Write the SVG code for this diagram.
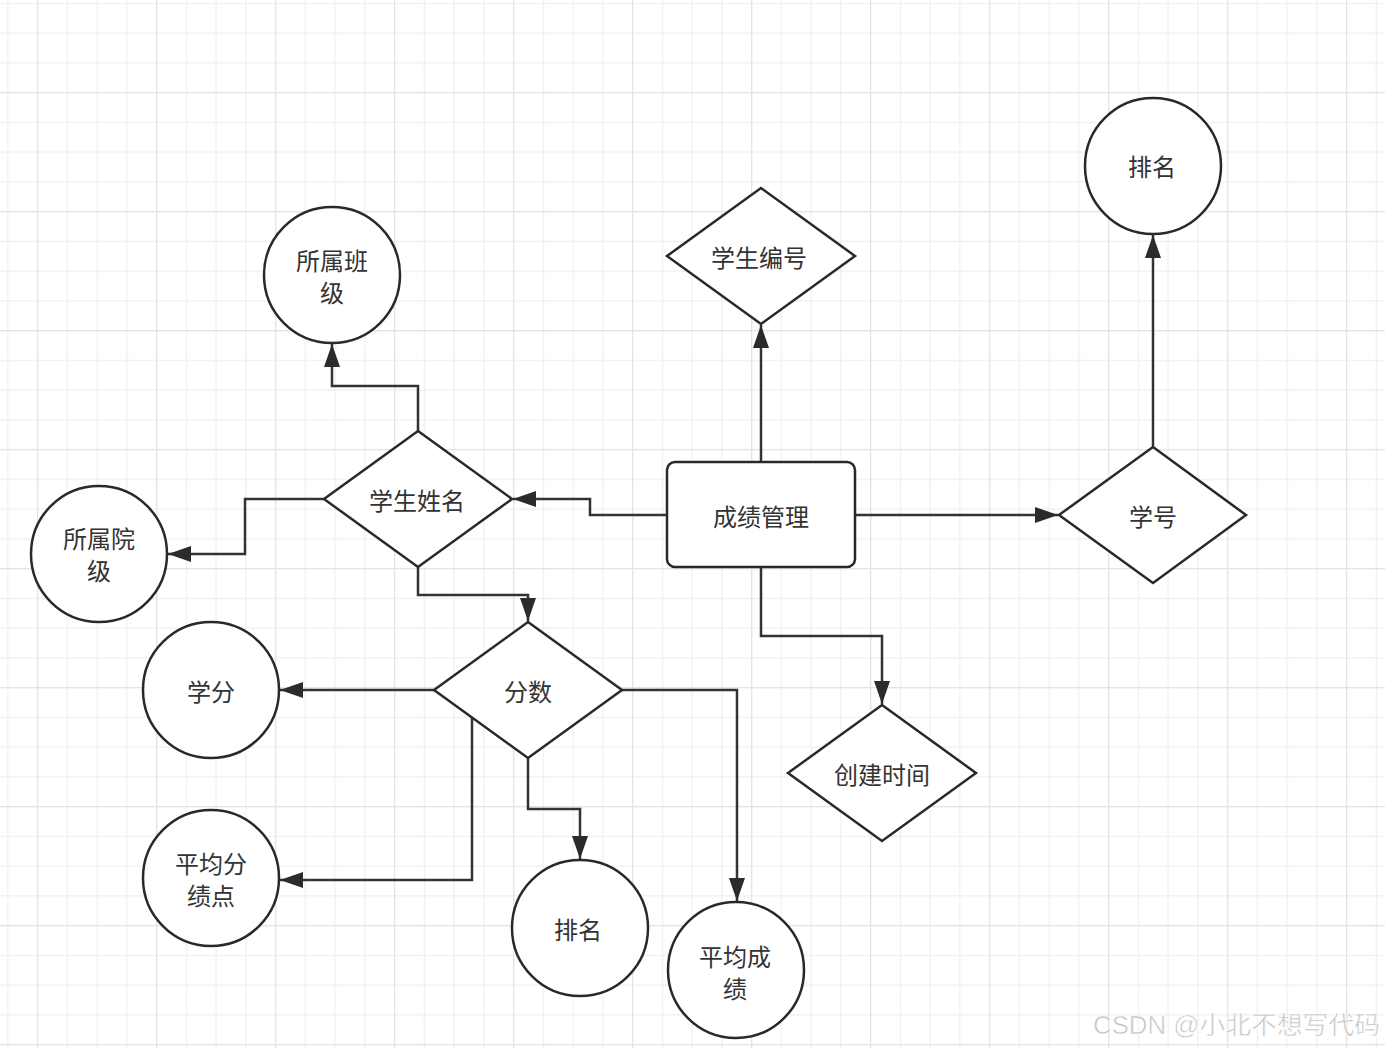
<svg xmlns="http://www.w3.org/2000/svg" width="1385" height="1048" viewBox="0 0 1385 1048">
<defs>
<pattern id="minor" x="7.25" y="2.75" width="29.75" height="29.75" patternUnits="userSpaceOnUse">
<path d="M0,0 V29.75 M0,0 H29.75" fill="none" stroke="#efefef" stroke-width="2.5"/>
</pattern>
<pattern id="major" x="37" y="92" width="119" height="119" patternUnits="userSpaceOnUse">
<path d="M0,0 V119 M0,0 H119" fill="none" stroke="#e4e4e4" stroke-width="2.5"/>
</pattern>
<marker id="arr" markerUnits="userSpaceOnUse" markerWidth="24" markerHeight="18" refX="23" refY="9" orient="auto">
<path d="M0,1 L23,9 L0,17 z" fill="#2b2b2b"/>
</marker>
</defs>
<style>
.shape{fill:#fff;stroke:#262a2e;stroke-width:2.5}
.edge{fill:none;stroke:#333;stroke-width:2.5;marker-end:url(#arr)}
.lbl{font-family:"Noto Sans CJK SC","Noto Sans",sans-serif;font-size:24px;fill:#333;text-anchor:middle;dominant-baseline:central}
.wm{font-family:"Liberation Sans","Noto Sans CJK SC",sans-serif;font-size:25px;fill:#c2c2c2;stroke:#fff;stroke-width:0.6}
</style>
<rect width="1385" height="1048" fill="#fff"/>
<rect width="1385" height="1048" fill="url(#minor)"/>
<rect width="1385" height="1048" fill="url(#major)"/>

<g id="connectors">
<path class="edge" d="M761,462 V325"/>
<path class="edge" d="M667,515 H590 V499 H513"/>
<path class="edge" d="M855,515 H1058"/>
<path class="edge" d="M1153,447 V235"/>
<path class="edge" d="M761,567 V636 H882 V704"/>
<path class="edge" d="M418,431 V386 H332 V344"/>
<path class="edge" d="M324,499 H245 V554 H168"/>
<path class="edge" d="M418,567 V595 H528 V621"/>
<path class="edge" d="M434,690 H280"/>
<path class="edge" d="M472,718 V880 H280"/>
<path class="edge" d="M528,758 V809 H580 V859"/>
<path class="edge" d="M622,690 H737 V901"/>
</g>

<g id="n-chengji">
<rect class="shape" x="667" y="462" width="188" height="105" rx="8"/>
<text class="lbl" x="761" y="515">成绩管理</text>
</g>
<g id="n-xueshengbianhao">
<polygon class="shape" points="761,188 855,256 761,324 667,256"/>
<text class="lbl" x="759" y="256">学生编号</text>
</g>
<g id="n-xueshengxingming">
<polygon class="shape" points="418,431 512,499 418,567 324,499"/>
<text class="lbl" x="417" y="499">学生姓名</text>
</g>
<g id="n-fenshu">
<polygon class="shape" points="528,622 622,690 528,758 434,690"/>
<text class="lbl" x="528" y="690">分数</text>
</g>
<g id="n-xuehao">
<polygon class="shape" points="1153,447 1246,515 1153,583 1059,515"/>
<text class="lbl" x="1153" y="515">学号</text>
</g>
<g id="n-chuangjian">
<polygon class="shape" points="882,705 976,773 882,841 788,773"/>
<text class="lbl" x="882" y="773">创建时间</text>
</g>
<g id="n-banji">
<circle class="shape" cx="332" cy="275" r="68"/>
<text class="lbl" x="332" y="259">所属班<tspan x="332" dy="32">级</tspan></text>
</g>
<g id="n-paiming-top">
<circle class="shape" cx="1153" cy="166" r="68"/>
<text class="lbl" x="1152" y="165">排名</text>
</g>
<g id="n-yuanji">
<circle class="shape" cx="99" cy="554" r="68"/>
<text class="lbl" x="99" y="537">所属院<tspan x="99" dy="32">级</tspan></text>
</g>
<g id="n-xuefen">
<circle class="shape" cx="211" cy="690" r="68"/>
<text class="lbl" x="211" y="690">学分</text>
</g>
<g id="n-jidian">
<circle class="shape" cx="211" cy="878" r="68"/>
<text class="lbl" x="211" y="862">平均分<tspan x="211" dy="32">绩点</tspan></text>
</g>
<g id="n-paiming-bottom">
<circle class="shape" cx="580" cy="928" r="68"/>
<text class="lbl" x="578" y="928">排名</text>
</g>
<g id="n-pingjun">
<circle class="shape" cx="736" cy="970" r="68"/>
<text class="lbl" x="735" y="955">平均成<tspan x="735" dy="32">绩</tspan></text>
</g>
<text class="wm" x="1093" y="1034" textLength="287" lengthAdjust="spacingAndGlyphs">CSDN @小北不想写代码</text>
</svg>
